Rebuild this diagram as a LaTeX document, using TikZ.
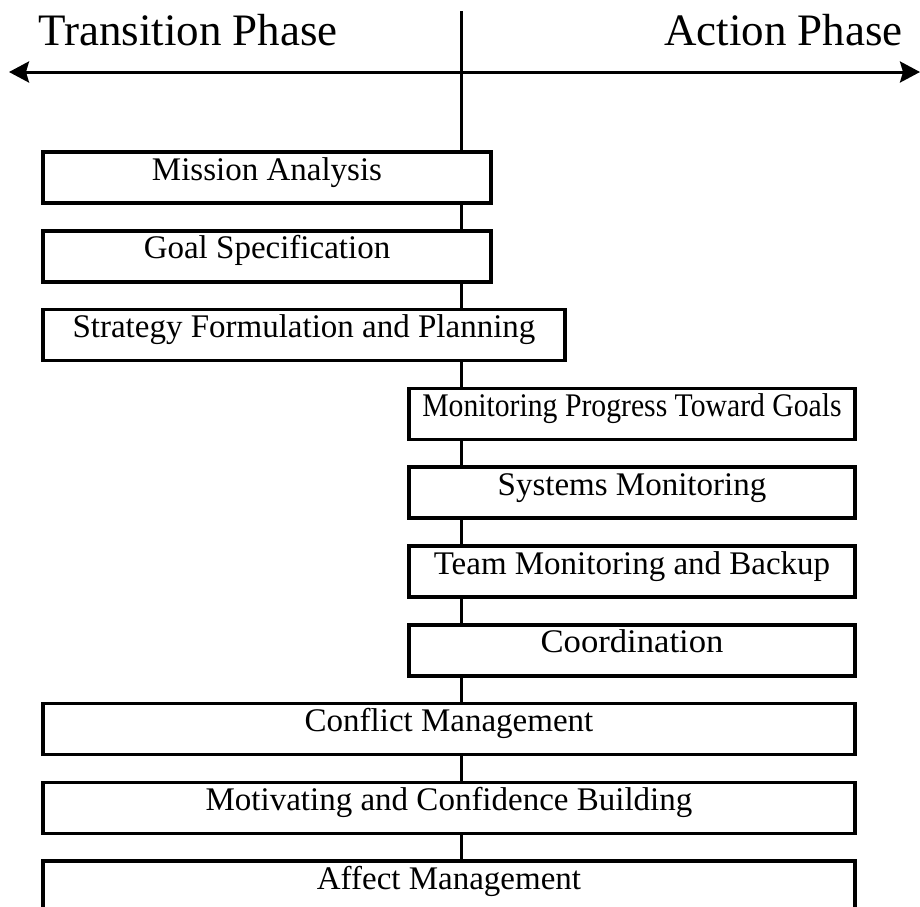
\documentclass[tikz,border=0pt]{standalone}
\usepackage{graphicx}
\usepackage{fontspec}
\setmainfont{Liberation Serif}
\usetikzlibrary{arrows.meta}
\begin{document}
\begin{tikzpicture}[x=1pt,y=-1pt,
  stepbox/.style={draw, line width=3.5pt, fill=white, rectangle, inner xsep=0pt, inner ysep=0pt,
    text height=28pt, text depth=23pt, font=\fontsize{33}{33}\selectfont},
  titletext/.style={font=\fontsize{45}{45}\selectfont, inner sep=0pt},
  axisline/.style={line width=3pt},
  >={Stealth[length=20pt,width=21pt,inset=3pt]}
  ]
\useasboundingbox (0,0) rectangle (920,906);
\clip (0,0) rectangle (920,906);
% titles
\node[titletext, anchor=base west] (tp) at (38,45) {Transition Phase};
\node[titletext, anchor=base east] (ap) at (903,45) {Action Phase};
% vertical axis and horizontal arrow
\coordinate (vtop) at (461,11);
\coordinate (vbot) at (461,920);
\draw[axisline] (vtop) -- (vbot);
\coordinate (al) at (9,72);
\coordinate (ar) at (920,72);
\draw[axisline, <->] (al) -- (ar);
% boxes
\node[stepbox, minimum width=448pt] (b1) at (267,177.5) {Mission Analysis};
\node[stepbox, minimum width=448pt] (b2) at (267,256.3) {Goal Specification};
\node[stepbox, minimum width=522pt] (b3) at (304,335.1) {Strategy Formulation and Planning};
\node[stepbox, minimum width=446pt] (b4) at (632,413.9) {\scalebox{0.9}[1]{Monitoring Progress Toward Goals}};
\node[stepbox, minimum width=446pt] (b5) at (632,492.7) {Systems Monitoring};
\node[stepbox, minimum width=446pt] (b6) at (632,571.5) {Team Monitoring and Backup};
\node[stepbox, minimum width=446pt] (b7) at (632,650.3) {\scalebox{1.05}[1]{Coordination}};
\node[stepbox, minimum width=812pt] (b8) at (449,729.1) {Conflict Management};
\node[stepbox, minimum width=812pt] (b9) at (449,807.9) {Motivating and Confidence Building};
\node[stepbox, minimum width=812pt] (b10) at (449,886.7) {Affect Management};
\end{tikzpicture}
\end{document}
